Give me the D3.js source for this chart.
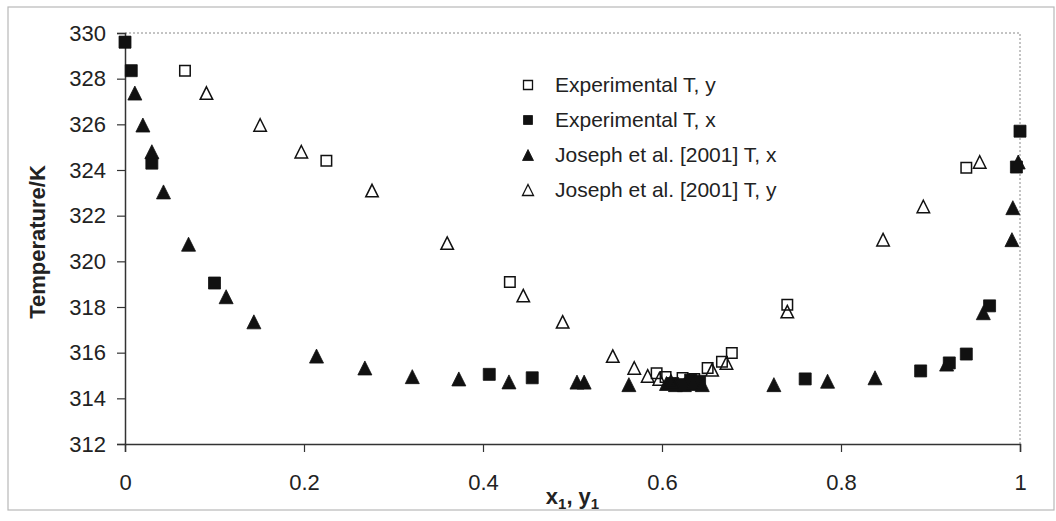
<!DOCTYPE html>
<html>
<head>
<meta charset="utf-8">
<script src="https://cdn.jsdelivr.net/npm/d3@7"></script>
<style>
  body { margin: 0; background: #fff; }
  svg { font-family: "Liberation Sans", Arial, sans-serif; }
</style>
</head>
<body>
<svg id="chart"></svg>
<script>
const width = 1056;
const height = 521;
const margin = {top: 33, right: 36, bottom: 77, left: 125};

// Experimental T, y (open squares)
const expYx = [0.0, 0.067, 0.225, 0.43, 0.594, 0.604, 0.623, 0.636, 0.651, 0.667, 0.678, 0.74, 0.94];
const expYt = [329.6, 328.35, 324.4, 319.1, 315.1, 314.93, 314.89, 314.85, 315.33, 315.6, 315.98, 318.1, 324.1];

// Experimental T, x (filled squares)
const expXx = [0.0, 0.007, 0.03, 0.1, 0.407, 0.455, 0.612, 0.622, 0.632, 0.642, 0.76, 0.889, 0.921, 0.94, 0.966, 0.996, 1.0];
const expXt = [329.6, 328.35, 324.3, 319.05, 315.05, 314.9, 314.65, 314.6, 314.8, 314.75, 314.85, 315.2, 315.55, 315.94, 318.05, 324.13, 325.7];

// Joseph et al. [2001] T, x (filled triangles)
const josXx = [0.011, 0.02, 0.03, 0.043, 0.071, 0.113, 0.144, 0.214, 0.268, 0.321, 0.373, 0.429, 0.505, 0.513, 0.563,
    0.605, 0.615, 0.625, 0.635, 0.645, 0.725, 0.785, 0.838, 0.918, 0.959, 0.991, 0.992, 0.998];
const josXt = [327.37, 325.97, 324.8, 323.04, 320.75, 318.45, 317.35, 315.85, 315.33, 314.95, 314.85, 314.72, 314.71, 314.71, 314.6,
    314.65, 314.6, 314.6, 314.65, 314.6, 314.6, 314.75, 314.9, 315.5, 317.75, 320.95, 322.35, 324.35];

// Joseph et al. [2001] T, y (open triangles)
const josYx = [0.091, 0.151, 0.197, 0.276, 0.36, 0.445, 0.489, 0.545, 0.569, 0.584, 0.597, 0.61, 0.656, 0.672, 0.74, 0.847, 0.892, 0.955];
const josYt = [327.37, 325.97, 324.8, 323.1, 320.8, 318.5, 317.35, 315.85, 315.33, 314.98, 314.85, 314.75, 315.25, 315.55, 317.8, 320.95, 322.4, 324.35];

const xTicks = [0, 0.2, 0.4, 0.6, 0.8, 1];
const yTicks = [312, 314, 316, 318, 320, 322, 324, 326, 328, 330];

const legendLabels = ['Experimental T, y', 'Experimental T, x',
    'Joseph et al. [2001] T, x', 'Joseph et al. [2001] T, y'];

const zip = (xs, ts) => xs.map((x, i) => ({x: x, t: ts[i]}));
const series = [
    {name: legendLabels[0], shape: 'square', filled: false, data: zip(expYx, expYt)},
    {name: legendLabels[1], shape: 'square', filled: true, data: zip(expXx, expXt)},
    {name: legendLabels[2], shape: 'triangle', filled: true, data: zip(josXx, josXt)},
    {name: legendLabels[3], shape: 'triangle', filled: false, data: zip(josYx, josYt)}
];

const svg = d3.select("#chart")
    .attr("width", width)
    .attr("height", height);

// outer chart frame
svg.append("rect")
    .attr("x", 8).attr("y", 7)
    .attr("width", 1046).attr("height", 503)
    .attr("fill", "none")
    .attr("stroke", "#b8b8b8")
    .attr("stroke-width", 1.2);

const innerW = width - margin.left - margin.right;
const innerH = height - margin.top - margin.bottom;

const x = d3.scaleLinear().domain([0, 1]).range([0, innerW]);
const y = d3.scaleLinear().domain([312, 330]).range([innerH, 0]);

const g = svg.append("g")
    .attr("transform", `translate(${margin.left},${margin.top})`);

// dotted plot-area border (top and right)
g.append("path")
    .attr("d", `M0,0H${x(1)}V${y(312)}`)
    .attr("fill", "none")
    .attr("stroke", "#888")
    .attr("stroke-width", 1)
    .attr("stroke-dasharray", "2,2");

// axes
const xAxis = g.append("g")
    .attr("transform", `translate(0,${innerH})`)
    .call(d3.axisBottom(x).tickValues(xTicks).tickFormat(d3.format("")).tickSize(8).tickPadding(22));

const yAxis = g.append("g")
    .call(d3.axisLeft(y).tickValues(yTicks).tickSize(8).tickPadding(11));

[xAxis, yAxis].forEach(a => {
    a.select(".domain").attr("stroke", "#333").attr("stroke-width", 1.5);
    a.selectAll(".tick line").attr("stroke", "#333").attr("stroke-width", 1.2);
    a.selectAll(".tick text")
        .attr("fill", "#222")
        .style("font-size", "22px")
        .style("font-family", "'Liberation Sans', Arial, sans-serif");
});

// marker paths, centred in their box
function markerPath(shape, s) {
    const h = s / 2;
    if (shape === 'square') return `M${-h},${-h}h${s}v${s}h${-s}Z`;
    return `M0,${-h}L${h},${h}L${-h},${h}Z`;
}

series.forEach(sr => {
    const size = sr.shape === 'square' ? 12 : 14;
    g.append("g")
        .selectAll("path")
        .data(sr.data)
        .enter()
        .append("path")
        .attr("transform", d => `translate(${x(d.x)},${y(d.t)})`)
        .attr("d", markerPath(sr.shape, sr.filled ? size : size - 1.5))
        .attr("fill", sr.filled ? "#111" : "none")
        .attr("stroke", "#111")
        .attr("stroke-width", sr.filled ? 0.8 : 1.5);
});

// legend
const legend = svg.append("g");
series.forEach((sr, i) => {
    const ly = 85 + i * 35;
    const size = sr.shape === 'square' ? 9 : 11;
    legend.append("path")
        .attr("transform", `translate(528,${ly})`)
        .attr("d", markerPath(sr.shape, size))
        .attr("fill", sr.filled ? "#111" : "none")
        .attr("stroke", "#111")
        .attr("stroke-width", sr.filled ? 0.8 : 1.3);
    legend.append("text")
        .attr("x", 555)
        .attr("y", ly + 7)
        .attr("fill", "#222")
        .style("font-size", "21px")
        .text(sr.name);
});

// axis titles
svg.append("text")
    .attr("transform", "translate(45,242) rotate(-90)")
    .attr("text-anchor", "middle")
    .attr("fill", "#222")
    .style("font-size", "22px")
    .style("font-weight", "bold")
    .text("Temperature/K");

const xt = svg.append("text")
    .attr("x", margin.left + innerW / 2)
    .attr("y", 504)
    .attr("text-anchor", "middle")
    .attr("fill", "#222")
    .style("font-size", "22px")
    .style("font-weight", "bold");
xt.append("tspan").text("x");
xt.append("tspan").attr("dy", 5).style("font-size", "15px").text("1");
xt.append("tspan").attr("dy", -5).text(", y");
xt.append("tspan").attr("dy", 5).style("font-size", "15px").text("1");
</script>
</body>
</html>
